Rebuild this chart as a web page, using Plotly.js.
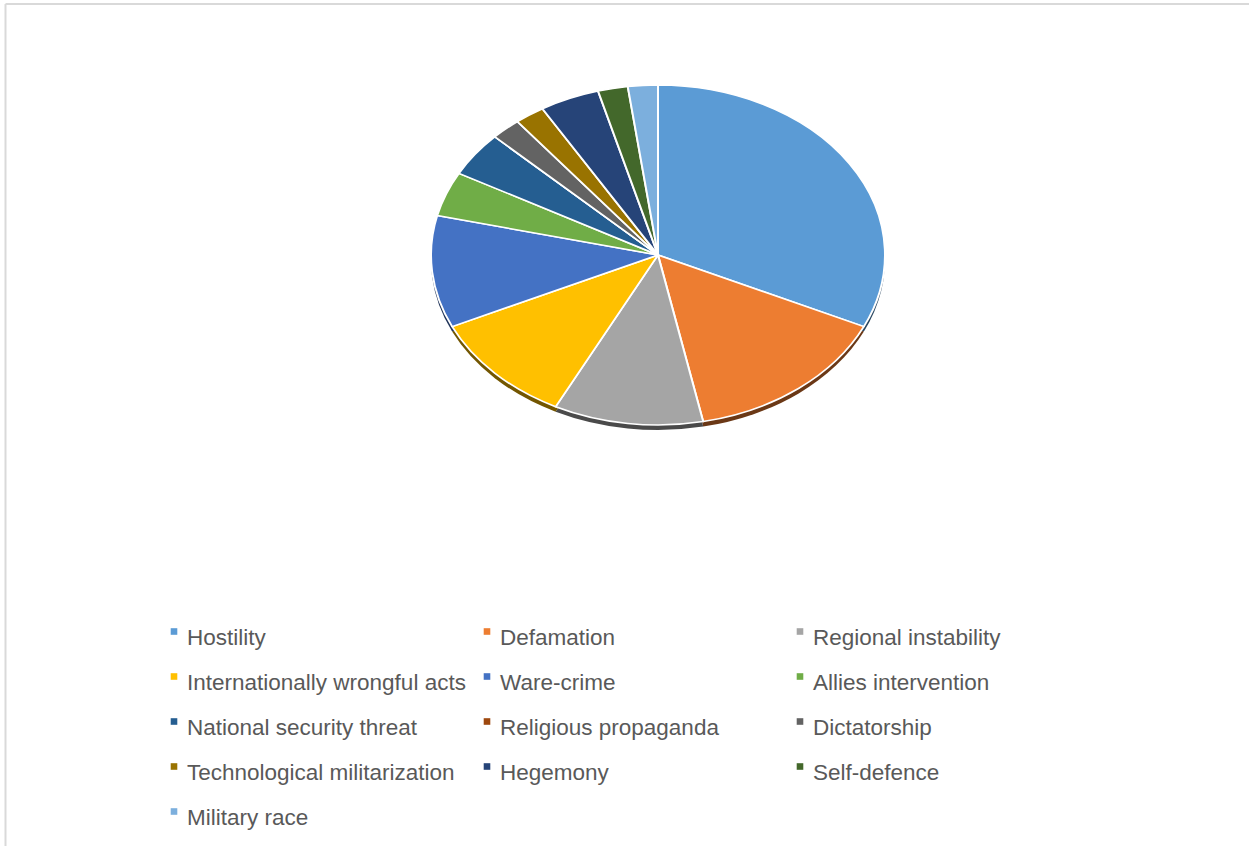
<!DOCTYPE html>
<html>
<head>
<meta charset="utf-8">
<script src="https://cdn.plot.ly/plotly-3.0.1.min.js"></script>
<style>
  html, body { margin: 0; padding: 0; background: #ffffff; }
  #chart { width: 1249px; height: 846px; }
</style>
</head>
<body>
<div id="chart"></div>
<script>
// ---- data ----
const labels = [
  "Hostility", "Defamation", "Regional instability",
  "Internationally wrongful acts", "Ware-crime", "Allies intervention",
  "National security threat", "Religious propaganda", "Dictatorship",
  "Technological militarization", "Hegemony", "Self-defence",
  "Military race"
];
const values = [15, 7, 5, 5, 5, 2, 2, 0, 1, 1, 2, 1, 1];
const colors = [
  "#5B9BD5", "#ED7D31", "#A5A5A5",
  "#FFC000", "#4472C4", "#70AD47",
  "#255E91", "#9E480E", "#636363",
  "#997300", "#264478", "#43682B",
  "#7CAFDD"
];

// ---- geometry / style ----
const W = 1249, H = 846;
const cx = 658, cy = 255, rx = 227, ry = 170;
const squash = ry / rx;
const depth = 5 / squash; // shadow rim thickness before squashing

function darken(hex, f) {
  const n = parseInt(hex.slice(1), 16);
  const r = Math.round(((n >> 16) & 255) * f);
  const g = Math.round(((n >> 8) & 255) * f);
  const b = Math.round((n & 255) * f);
  return "rgb(" + r + "," + g + "," + b + ")";
}
const rimColors = colors.map(function (c) { return darken(c, 0.45); });

const domX = [(cx - rx) / W, (cx + rx) / W];
const domY = [(H - cy - rx) / H, (H - cy + rx) / H];

const data = [
  { // 3-D rim underneath
    type: "pie",
    labels: labels,
    values: values,
    sort: false,
    direction: "clockwise",
    rotation: 0,
    textinfo: "none",
    hoverinfo: "skip",
    showlegend: false,
    marker: { colors: rimColors, line: { width: 0 } },
    domain: { x: domX, y: [domY[0] - depth / H, domY[1] - depth / H] }
  },
  {
    type: "pie",
    labels: labels,
    values: values,
    sort: false,
    direction: "clockwise",
    rotation: 0,
    textinfo: "none",
    hoverinfo: "label+value+percent",
    marker: { colors: colors, line: { color: "#ffffff", width: 2 } },
    domain: { x: domX, y: domY }
  }
];

const layout = {
  width: W, height: H,
  margin: { l: 0, r: 0, t: 0, b: 0 },
  paper_bgcolor: "#ffffff",
  showlegend: true,
  legend: {
    x: 0, y: 1, xanchor: "left", yanchor: "top",
    bgcolor: "rgba(0,0,0,0)", borderwidth: 0,
    font: { family: "Liberation Sans, Arial, sans-serif", size: 22.5, color: "#595959" }
  },
  shapes: [
    { type: "line", xref: "paper", yref: "paper",
      x0: 5.5 / W, x1: 1, y0: 1 - 4 / H, y1: 1 - 4 / H,
      line: { color: "#d9d9d9", width: 2 } },
    { type: "line", xref: "paper", yref: "paper",
      x0: 5.5 / W, x1: 5.5 / W, y0: 0, y1: 1 - 4 / H,
      line: { color: "#d9d9d9", width: 2 } }
  ]
};

const colText = [187, 500, 813];
const rowMid = 636.5, rowPitch = 45;

Plotly.newPlot("chart", data, layout, { displayModeBar: false, staticPlot: true }).then(function (gd) {
  // tilt the pie into an ellipse (as in the 3-D Office pie)
  const pl = gd.querySelector(".pielayer");
  if (pl) pl.setAttribute("transform",
    "translate(0," + (cy * (1 - squash)) + ") scale(1," + squash + ")");

  // lay the legend out as a 3-column grid
  const sb = gd.querySelector(".legend .scrollbox");
  if (sb) {
    sb.removeAttribute("clip-path");
    const m = sb.getCTM();
    const items = gd.querySelectorAll(".legend .traces");
    items.forEach(function (g, i) {
      const col = i % 3, row = Math.floor(i / 3);
      const t = g.querySelector("text.legendtext");
      const tx = t ? parseFloat(t.getAttribute("x")) || 40 : 40;
      const ax = colText[col] - tx - m.e;
      const ay = rowMid + row * rowPitch - m.f;
      g.setAttribute("transform", "translate(" + ax + "," + ay + ")");
      g.querySelectorAll(".legendpoints path").forEach(function (p) {
        p.setAttribute("transform", "translate(" + (tx - 13) + ",-5) scale(0.55)");
        p.style.strokeWidth = "0";
      });
    });
  }
});
</script>
</body>
</html>
